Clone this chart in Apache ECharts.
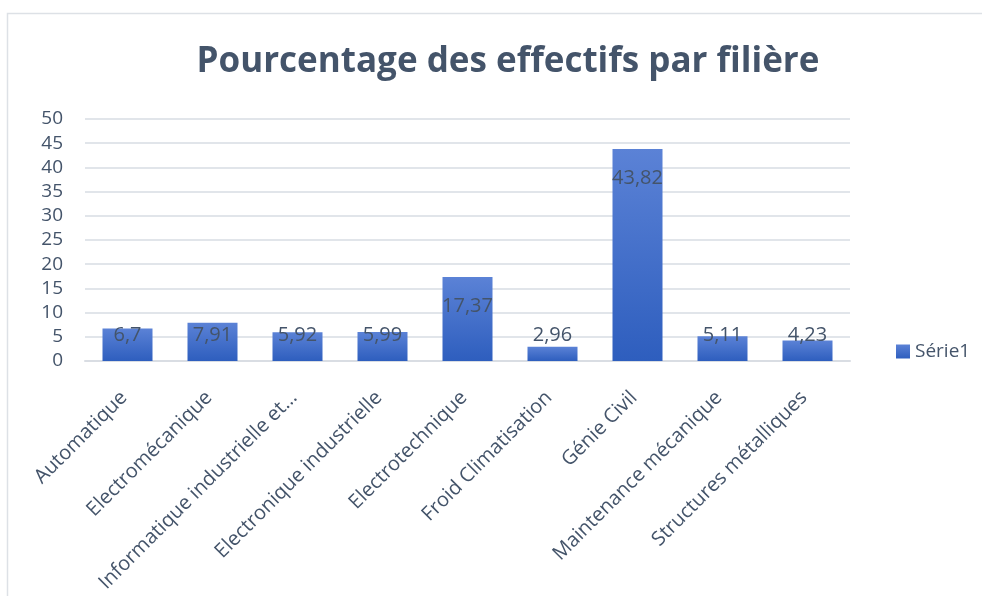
<!DOCTYPE html>
<html>
<head>
<meta charset="utf-8">
<script src="https://cdn.jsdelivr.net/npm/echarts@6/dist/echarts.min.js"></script>
<style>
html,body{margin:0;padding:0;background:#fff;}
#chart{width:982px;height:596px;}
</style>
</head>
<body>
<div id="chart"></div>
<script>
const titleText = "Pourcentage des effectifs par filière";
const categories = ["Automatique", "Electromécanique", "Informatique industrielle et…", "Electronique industrielle", "Electrotechnique", "Froid Climatisation", "Génie Civil", "Maintenance mécanique", "Structures métalliques"];
const seriesName = "Série1";
const values = [6.7, 7.91, 5.92, 5.99, 17.37, 2.96, 43.82, 5.11, 4.23];
const yTicks = [0, 5, 10, 15, 20, 25, 30, 35, 40, 45, 50];

const textColor = "#44546a";
const font = "'Open Sans', sans-serif";

const chart = echarts.init(document.getElementById('chart'));
const barColor = new echarts.graphic.LinearGradient(0, 0, 0, 1, [
  {offset: 0, color: '#5b82d6'},
  {offset: 1, color: '#2e5ebe'}
]);

const data = values.map(v => {
  const tall = v > 12;
  return {
    value: v,
    label: tall ? {position: 'insideTop', distance: 19} : {position: 'insideBottom', distance: 16}
  };
});

chart.setOption({
  animation: false,
  backgroundColor: '#fff',
  textStyle: {fontFamily: font},
  graphic: [{
    type: 'rect',
    shape: {x: 7.5, y: 13.5, width: 1100, height: 1000},
    style: {fill: 'none', stroke: '#dde1e6', lineWidth: 1.5},
    silent: true
  }],
  title: {
    text: titleText,
    left: 503, textAlign: 'center',
    top: 40,
    textStyle: {fontFamily: font, fontSize: 35, fontWeight: 'bold', color: textColor}
  },
  legend: {
    data: [seriesName],
    left: 891, top: 337,
    icon: 'rect', itemWidth: 14, itemHeight: 14, itemGap: 5,
    textStyle: {fontFamily: font, fontSize: 19, color: textColor, padding: [0,0,0,0]}
  },
  grid: {left: 85, right: 132, top: 119, bottom: 235, containLabel: false, outerBoundsMode: 'none'},
  xAxis: {
    type: 'category',
    data: categories,
    axisTick: {show: false},
    axisLine: {lineStyle: {color: '#d9dde3', width: 2}},
    axisLabel: {interval: 0, rotate: 45, margin: 30, padding: [0, 5, 0, 0], fontFamily: font, fontSize: 20, color: textColor, hideOverlap: false}
  },
  yAxis: {
    type: 'value',
    min: yTicks[0], max: yTicks[yTicks.length - 1], interval: yTicks[1] - yTicks[0],
    axisLine: {show: false},
    axisTick: {show: false},
    axisLabel: {margin: 22, fontFamily: font, fontSize: 19, color: textColor},
    splitLine: {lineStyle: {color: '#e1e5ea', width: 2}}
  },
  series: [{
    name: seriesName,
    type: 'bar',
    data: data,
    barWidth: 50,
    itemStyle: {color: barColor},
    label: {
      show: true,
      fontFamily: font, fontSize: 20, color: textColor,
      formatter: p => String(p.value).replace('.', ',')
    }
  }]
});
</script>
</body>
</html>
